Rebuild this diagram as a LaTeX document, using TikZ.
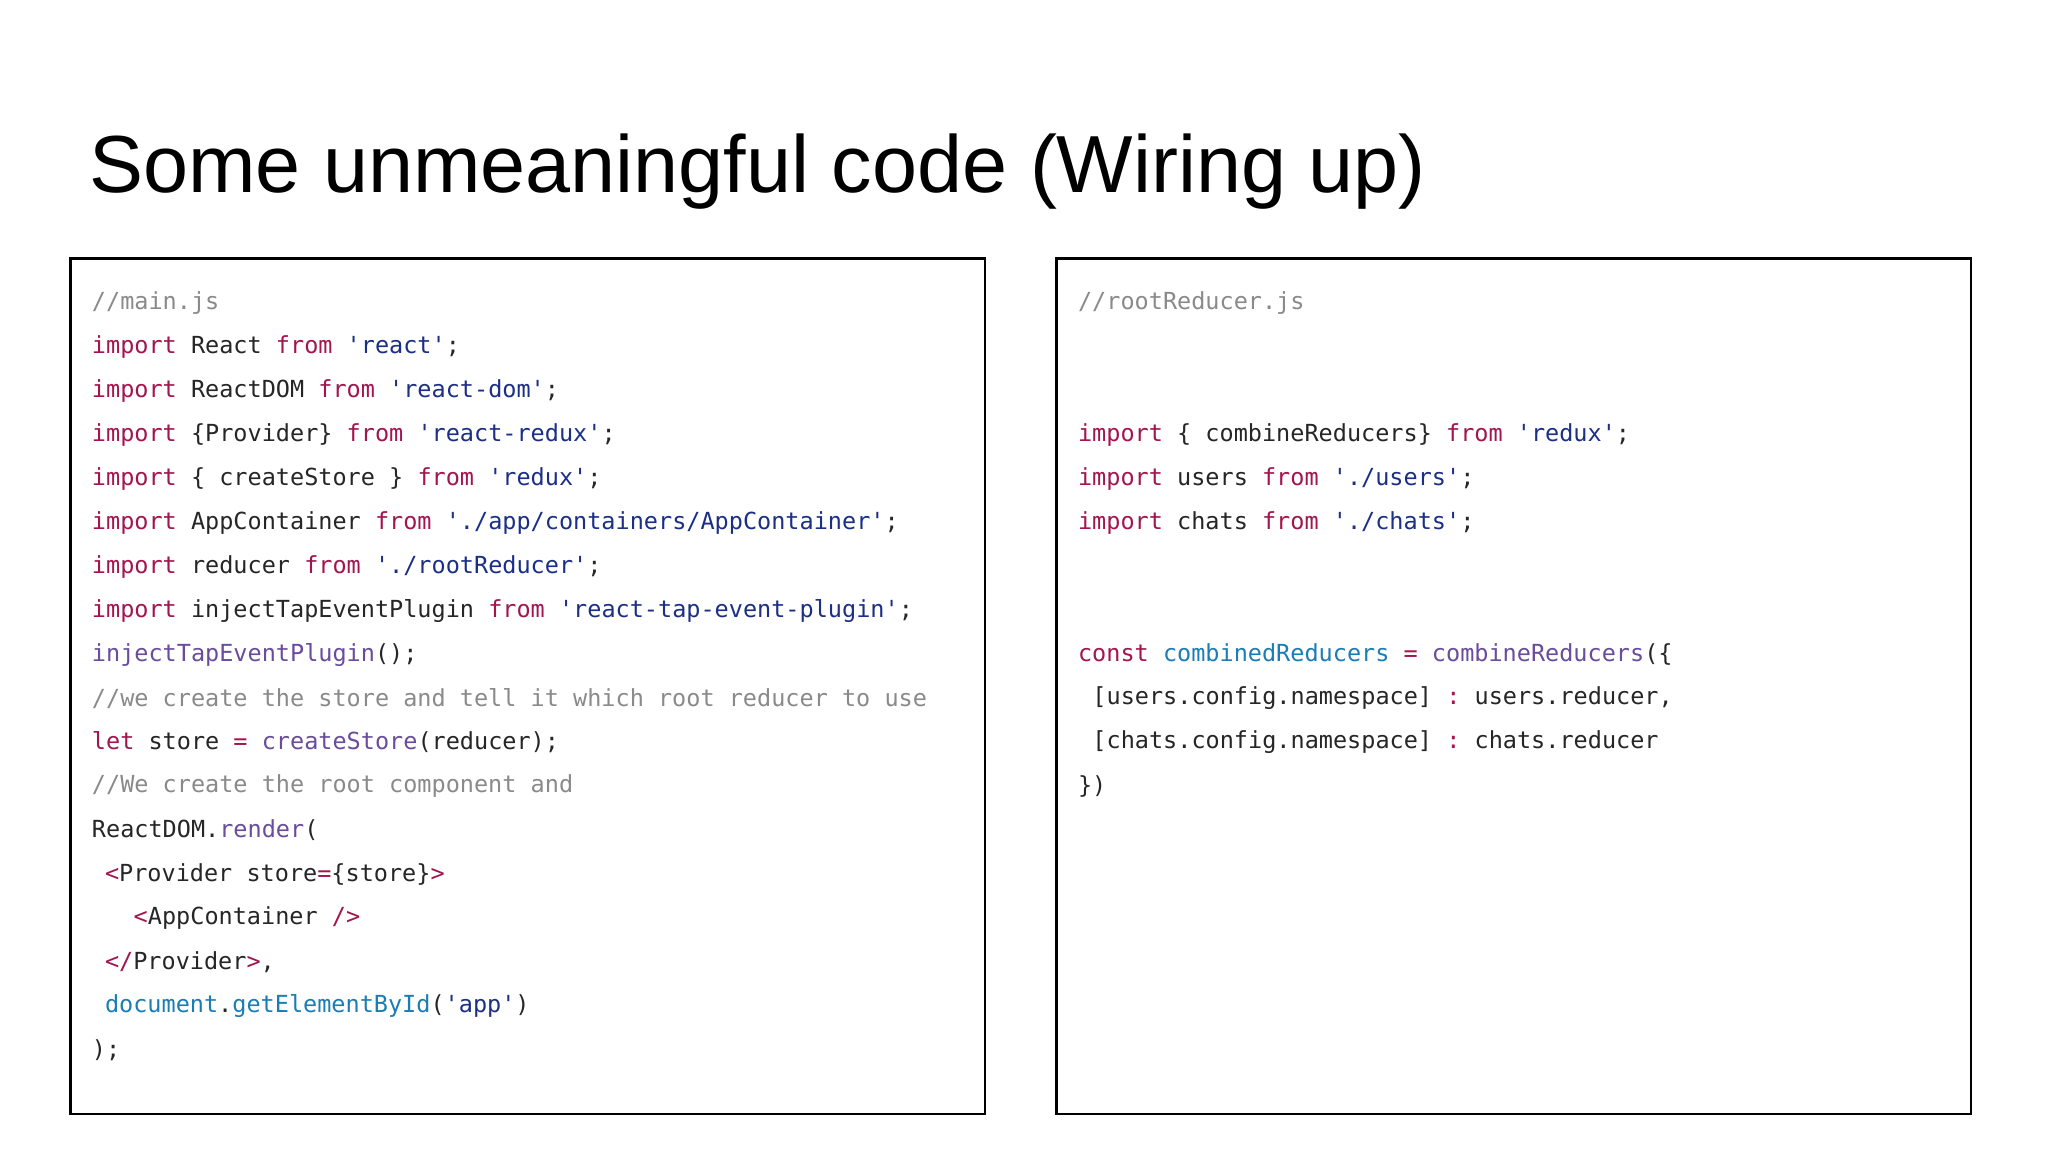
\documentclass[tikz,border=0pt]{standalone}
\usepackage{fontspec}
\setmainfont{Liberation Sans}
\setmonofont{DejaVu Sans Mono}
\definecolor{kwc}{HTML}{A3154F}
\definecolor{strc}{HTML}{1C2F87}
\definecolor{cmc}{HTML}{8A8A8A}
\definecolor{fnc}{HTML}{6A4C9C}
\definecolor{tlc}{HTML}{1A7DB5}
\newcommand{\Kw}[1]{{\color{kwc}#1}}
\newcommand{\Str}[1]{{\color{strc}#1}}
\newcommand{\Cmt}[1]{{\color{cmc}#1}}
\newcommand{\Fn}[1]{{\color{fnc}#1}}
\newcommand{\Tl}[1]{{\color{tlc}#1}}
\tikzset{code/.style={anchor=west,inner sep=0pt,font=\ttfamily\fontsize{9}{9}\selectfont,text=black!85},
panel/.style={draw=black,line width=0.9pt}}
\begin{document}
\begin{tikzpicture}[x=0.5pt,y=-0.5pt]
\useasboundingbox[fill=white] (0,0) rectangle (1568,882);
\node[anchor=west,inner sep=0pt,font=\fontsize{31}{31}\selectfont] (title) at (68,131) {Some unmeaningful code (Wiring up)};
\draw[panel] (54,198) rectangle (754,853);
\draw[panel] (809,198) rectangle (1509,853);
\def\L#1{232+33.65*#1}
\node[code] (l0) at (70,{\L0}) {\Cmt{//main.js}};
\node[code] (l1) at (70,{\L1}) {\Kw{import} React \Kw{from} \Str{'react'};};
\node[code] (l2) at (70,{\L2}) {\Kw{import} ReactDOM \Kw{from} \Str{'react-dom'};};
\node[code] (l3) at (70,{\L3}) {\Kw{import} \{Provider\} \Kw{from} \Str{'react-redux'};};
\node[code] (l4) at (70,{\L4}) {\Kw{import} \{ createStore \} \Kw{from} \Str{'redux'};};
\node[code] (l5) at (70,{\L5}) {\Kw{import} AppContainer \Kw{from} \Str{'./app/containers/AppContainer'};};
\node[code] (l6) at (70,{\L6}) {\Kw{import} reducer \Kw{from} \Str{'./rootReducer'};};
\node[code] (l7) at (70,{\L7}) {\Kw{import} injectTapEventPlugin \Kw{from} \Str{'react-tap-event-plugin'};};
\node[code] (l8) at (70,{\L8}) {\Fn{injectTapEventPlugin}();};
\node[code] (l9) at (70,{\L9}) {\Cmt{//we create the store and tell it which root reducer to use}};
\node[code] (l10) at (70,{\L{10}}) {\Kw{let} store \Kw{=} \Fn{createStore}(reducer);};
\node[code] (l11) at (70,{\L{11}}) {\Cmt{//We create the root component and}};
\node[code] (l12) at (70,{\L{12}}) {ReactDOM.\Fn{render}(};
\node[code] (l13) at (80,{\L{13}}) {\Kw{<}Provider store\Kw{=}\{store\}\Kw{>}};
\node[code] (l14) at (102,{\L{14}}) {\Kw{<}AppContainer \Kw{/>}};
\node[code] (l15) at (80,{\L{15}}) {\Kw{</}Provider\Kw{>},};
\node[code] (l16) at (80,{\L{16}}) {\Tl{document}.\Tl{getElementById}(\Str{'app'})};
\node[code] (l17) at (70,{\L{17}}) {);};
\node[code] (r0) at (825,{\L0}) {\Cmt{//rootReducer.js}};
\node[code] (r3) at (825,{\L3}) {\Kw{import} \{ combineReducers\} \Kw{from} \Str{'redux'};};
\node[code] (r4) at (825,{\L4}) {\Kw{import} users \Kw{from} \Str{'./users'};};
\node[code] (r5) at (825,{\L5}) {\Kw{import} chats \Kw{from} \Str{'./chats'};};
\node[code] (r8) at (825,{\L8}) {\Kw{const} \Tl{combinedReducers} \Kw{=} \Fn{combineReducers}(\{};
\node[code] (r9) at (836,{\L9}) {[users.config.namespace] \Kw{:} users.reducer,};
\node[code] (r10) at (836,{\L{10}}) {[chats.config.namespace] \Kw{:} chats.reducer};
\node[code] (r11) at (825,{\L{11}}) {\})};
\end{tikzpicture}
\end{document}
